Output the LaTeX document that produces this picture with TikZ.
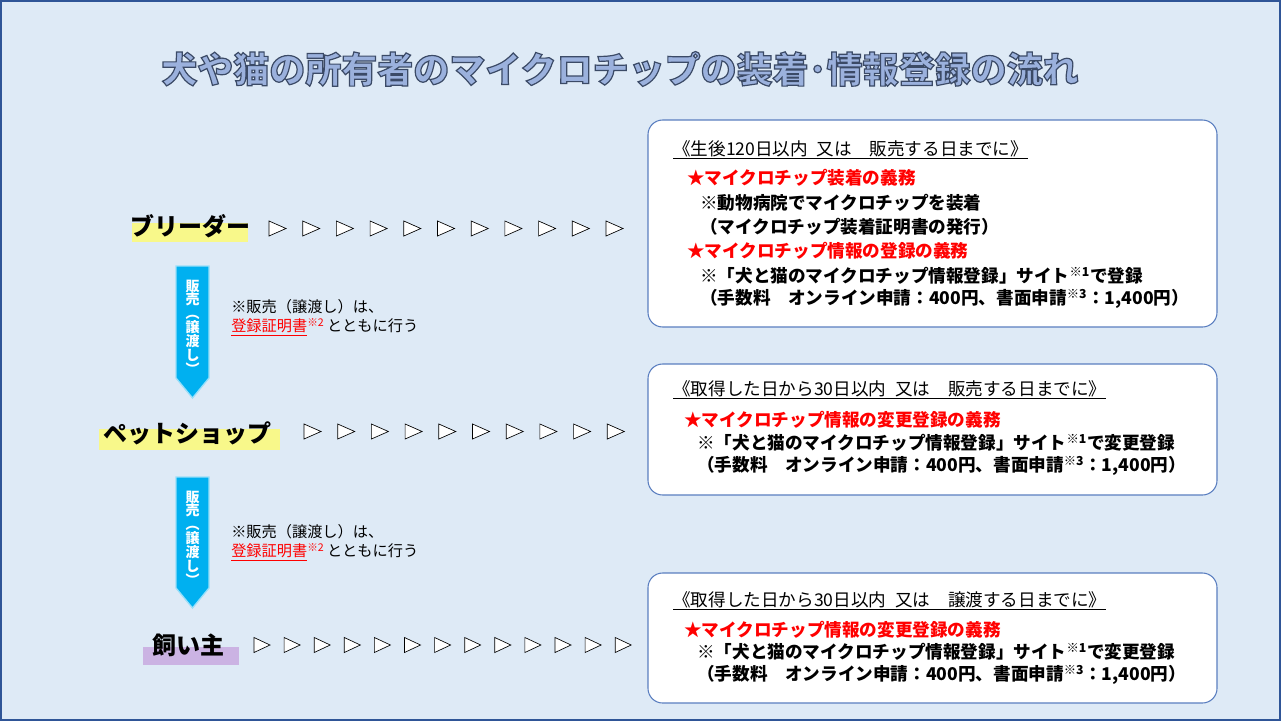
\documentclass[tikz,border=0pt]{standalone}
\usepackage{fontspec}
\setmainfont{Noto Sans CJK JP}
\definecolor{bgblue}{HTML}{DEEAF6}
\definecolor{frameblue}{HTML}{2F5597}
\definecolor{boxline}{HTML}{5A7EC0}
\definecolor{titlefill}{HTML}{9BB1DD}
\definecolor{flowblue}{HTML}{00B0F0}
\definecolor{markyellow}{HTML}{F8F88A}
\definecolor{markpurple}{HTML}{CBB3E3}
\definecolor{dutyred}{HTML}{FF0000}
\newcommand{\outlined}[1]{\special{pdf:literal direct 2 Tr 0.9 w 0.23 0.29 0.40 RG}#1\special{pdf:literal direct 0 Tr}}

\begin{document}
\begin{tikzpicture}[
    x = 0.75pt, y = -0.75pt,
    every node/.style = {inner sep = 0pt},
    title/.style = {font = \fontsize{27}{27}\selectfont\bfseries},
    infobox/.style = {draw = boxline, fill = white, rounded corners = 11pt, line width = 0.8pt},
    head/.style = {anchor = west, font = \fontsize{13.2}{15}\selectfont},
    duty/.style = {anchor = west, text = dutyred, font = \fontsize{13.2}{15}\selectfont\bfseries},
    body/.style = {anchor = west, font = \fontsize{13.2}{15}\selectfont\bfseries},
    note/.style = {anchor = west, font = \fontsize{11.4}{13}\selectfont},
    role/.style = {font = \fontsize{18}{18}\selectfont\bfseries},
    flow/.style = {fill = flowblue, draw = flowblue!40, line width = 1pt},
    flowtext/.style = {text = white, align = center, font = \fontsize{10.5}{10.4}\selectfont\bfseries},
    tri/.style = {draw = black, fill = white, line width = 0.5pt}]

\useasboundingbox (0,0) rectangle (1281,721);
\fill[bgblue] (0,0) rectangle (1281,721);
\draw[frameblue, line width = 1.5pt] (1,1) rectangle (1280,720);

\node[title, text = titlefill] (title) at (620,69)
    {\outlined{犬や猫の所有者のマイクロチップの装着･情報登録の流れ}};

\fill[markyellow] (132,223) rectangle (248,242);
\node[role] (breeder) at (190,226) {ブリーダー};
\fill[markyellow] (99,429) rectangle (280,450);
\node[role] (shop) at (187,433) {ペットショップ};
\fill[markpurple] (143,647) rectangle (239,665);
\node[role] (owner) at (188,645) {飼い主};

\foreach \i in {0,...,10}
    \draw[tri] (269+33.7*\i,221) -- ++(17,7.5) -- ++(-17,7.5) -- cycle;
\foreach \i in {0,...,9}
    \draw[tri] (304+33.7*\i,424) -- ++(17,7.5) -- ++(-17,7.5) -- cycle;
\foreach \i in {0,...,12}
    \draw[tri] (254+30.1*\i,637.5) -- ++(16,7.5) -- ++(-16,7.5) -- cycle;

\draw[flow] (176,266) -- (209,266) -- (209,378) -- (192.5,398) -- (176,378) -- cycle;
\node[flowtext] (sale1) at (192.5,327) {販\\売\\︵\\譲\\渡\\し\\︶};
\draw[flow] (176,477) -- (209,477) -- (209,588) -- (192.5,608) -- (176,588) -- cycle;
\node[flowtext] (sale2) at (192.5,538) {販\\売\\︵\\譲\\渡\\し\\︶};

\node[note] (note1) at (231,307) {※販売（譲渡し）は、};
\node[note] (cert1) at (231,327) {\textcolor{dutyred}{\underline{登録証明書}\textsuperscript{※2}}\,とともに行う};
\node[note] (note2) at (231,532) {※販売（譲渡し）は、};
\node[note] (cert2) at (231,552) {\textcolor{dutyred}{\underline{登録証明書}\textsuperscript{※2}}\,とともに行う};

\draw[infobox] (648,120) rectangle (1217,327);
\node[head] (term1) at (673,150) {\underline{《生後120日以内\enspace 又は\quad 販売する日までに》}};
\node[duty] (duty1) at (687,178) {★マイクロチップ装着の義務};
\node[body] (vet) at (700,203) {※動物病院でマイクロチップを装着};
\node[body] (issue) at (700,227) {（マイクロチップ装着証明書の発行）};
\node[duty] (duty2) at (687,251) {★マイクロチップ情報の登録の義務};
\node[body] (site1) at (700,276) {※「犬と猫のマイクロチップ情報登録」サイト\textsuperscript{※1}で登録};
\node[body] (fee1) at (700,299) {（手数料\quad オンライン申請：400円、書面申請\textsuperscript{※3}：1,400円）};

\draw[infobox] (648,364) rectangle (1217,495);
\node[head] (term2) at (673,390) {\underline{《取得した日から30日以内\enspace 又は\quad 販売する日までに》}};
\node[duty] (duty3) at (684,420) {★マイクロチップ情報の変更登録の義務};
\node[body] (site2) at (697,443) {※「犬と猫のマイクロチップ情報登録」サイト\textsuperscript{※1}で変更登録};
\node[body] (fee2) at (697,466) {（手数料\quad オンライン申請：400円、書面申請\textsuperscript{※3}：1,400円）};

\draw[infobox] (648,573) rectangle (1217,703);
\node[head] (term3) at (673,601) {\underline{《取得した日から30日以内\enspace 又は\quad 譲渡する日までに》}};
\node[duty] (duty4) at (684,630) {★マイクロチップ情報の変更登録の義務};
\node[body] (site3) at (697,652) {※「犬と猫のマイクロチップ情報登録」サイト\textsuperscript{※1}で変更登録};
\node[body] (fee3) at (697,675) {（手数料\quad オンライン申請：400円、書面申請\textsuperscript{※3}：1,400円）};
\end{tikzpicture}
\end{document}
